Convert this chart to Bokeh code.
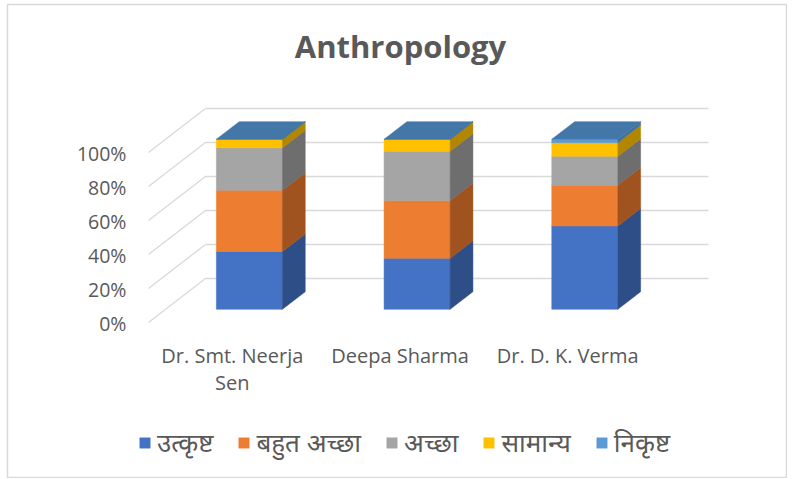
import textwrap
from bokeh.plotting import figure
from bokeh.models import Legend, LegendItem, Label
from bokeh.core.properties import value
from bokeh.embed import file_html
from bokeh.resources import INLINE

# ---------------- data ----------------
title_text = "Anthropology"
categories = ["Dr. Smt. Neerja Sen", "Deepa Sharma", "Dr. D. K. Verma"]
series_names = ["उत्कृष्ट", "बहुत अच्छा", "अच्छा", "सामान्य", "निकृष्ट"]
utkrisht = [34, 30, 49]
bahut_achha = [36, 34, 24]
achha = [25, 29, 17]
samanya = [5, 7, 8]
nikrisht = [0, 0, 2]
series_values = [utkrisht, bahut_achha, achha, samanya, nikrisht]
y_ticks = [0, 20, 40, 60, 80, 100]
y_tick_labels = [f"{t}%" for t in y_ticks]

# ---------------- style ----------------
front_colors = ["#4472C4", "#ED7D31", "#A5A5A5", "#FFC000", "#5B9BD5"]
side_colors = ["#2E4E87", "#A0531E", "#6E6E6E", "#B38600", "#41719C"]
top_colors = ["#3A62A8", "#C8682A", "#8C8C8C", "#D9A300", "#4277A8"]
TEXT = "#595959"
GRID = "#D9D9D9"
FONT = "Open Sans"

FIG_W, FIG_H = 787, 478
ML, MT, MR, MB = 7, 4, 1, 1          # frame offsets inside the canvas
FW, FH = FIG_W - ML - MR, FIG_H - MT - MB
SX = 167.7          # px per category unit
SY = 1.7            # px per percent
X0_PAGE, Y0_PAGE = 231.8, 322.0   # canvas position of (0, 0) on front plane
DX = 57 / SX        # depth offset (x, data units)
DY = 44 / SY        # depth offset (y, data units)
D0, D1 = 0.3, 0.7   # bar depth span
BW = 0.394          # bar width

x_start = (ML - X0_PAGE) / SX
x_end = (ML + FW - X0_PAGE) / SX
y_end = (Y0_PAGE - MT) / SY
y_start = (Y0_PAGE - MT - FH) / SY

p = figure(width=FIG_W, height=FIG_H, x_range=(x_start, x_end), y_range=(y_start, y_end),
           output_backend="svg", toolbar_location=None,
           min_border_left=ML, min_border_top=MT, min_border_right=MR, min_border_bottom=MB)
p.axis.visible = False
p.grid.visible = False
p.outline_line_color = GRID
p.outline_line_width = 1.5
p.background_fill_color = "white"
p.border_fill_color = "white"

n = len(categories)
xl_wall = -0.5
xr_wall = n - 0.5

# walls: diagonal lines on the left wall and horizontal lines on the back wall
for t in y_ticks:
    p.line([xl_wall, xl_wall + DX, xr_wall + DX], [t, t + DY, t + DY],
           line_color=GRID, line_width=1.3)

# bars
front_renderers = []
cum = [0.0] * n
for s, vals in enumerate(series_values):
    fxs, fys, sxs, sys_, txs, tys = [], [], [], [], [], []
    for i in range(n):
        y0 = cum[i]
        y1 = cum[i] + vals[i]
        xl = i - BW / 2
        xr = i + BW / 2
        fxs.append([xl + D0 * DX, xr + D0 * DX, xr + D0 * DX, xl + D0 * DX])
        fys.append([y0 + D0 * DY, y0 + D0 * DY, y1 + D0 * DY, y1 + D0 * DY])
        sxs.append([xr + D0 * DX, xr + D1 * DX, xr + D1 * DX, xr + D0 * DX])
        sys_.append([y0 + D0 * DY, y0 + D1 * DY, y1 + D1 * DY, y1 + D0 * DY])
        if s == len(series_values) - 1:
            txs.append([xl + D0 * DX, xr + D0 * DX, xr + D1 * DX, xl + D1 * DX])
            tys.append([y1 + D0 * DY, y1 + D0 * DY, y1 + D1 * DY, y1 + D1 * DY])
        cum[i] = y1
    r = p.patches(fxs, fys, fill_color=front_colors[s], line_color=front_colors[s], line_width=0.5)
    front_renderers.append(r)
    p.patches(sxs, sys_, fill_color=side_colors[s], line_color=side_colors[s], line_width=0.5)
    if txs:
        p.patches(txs, tys, fill_color=top_colors[s], line_color=top_colors[s], line_width=0.5)

# y tick labels
p.text(x=[xl_wall] * len(y_ticks), y=y_ticks, text=y_tick_labels,
       x_offset=-22, y_offset=1, text_align="right", text_baseline="middle",
       text_font=value(FONT), text_font_size="19.5px", text_color=TEXT)

# category labels (wrapped)
lx, ly, lt, loff = [], [], [], []
for i, c in enumerate(categories):
    for k, line in enumerate(textwrap.wrap(c, 16)):
        lx.append(i)
        ly.append(0)
        lt.append(line)
        loff.append(33 + 27 * k)
p.text(x=lx, y=ly, text=lt, y_offset=loff, text_align="center", text_baseline="middle",
       text_font=value(FONT), text_font_size="20px", text_color=TEXT)

# title
p.add_layout(Label(x=400 - ML, y=FIG_H - 45 - MB, x_units="screen", y_units="screen",
                   text=title_text, text_align="center", text_baseline="middle",
                   text_font=FONT, text_font_style="bold", text_font_size="31px",
                   text_color=TEXT))

# legend
legend = Legend(items=[LegendItem(label=nm, renderers=[front_renderers[s]])
                       for s, nm in enumerate(series_names)],
                orientation="horizontal", location=(131, 17),
                glyph_width=13, glyph_height=13, label_standoff=6, spacing=24,
                padding=0, margin=0, border_line_color=None, background_fill_alpha=0,
                label_text_font="Noto Sans", label_text_font_size="26px",
                label_text_color=TEXT, label_text_baseline="middle")
p.add_layout(legend, "center")

open("out.html", "w").write(file_html(p, INLINE))
